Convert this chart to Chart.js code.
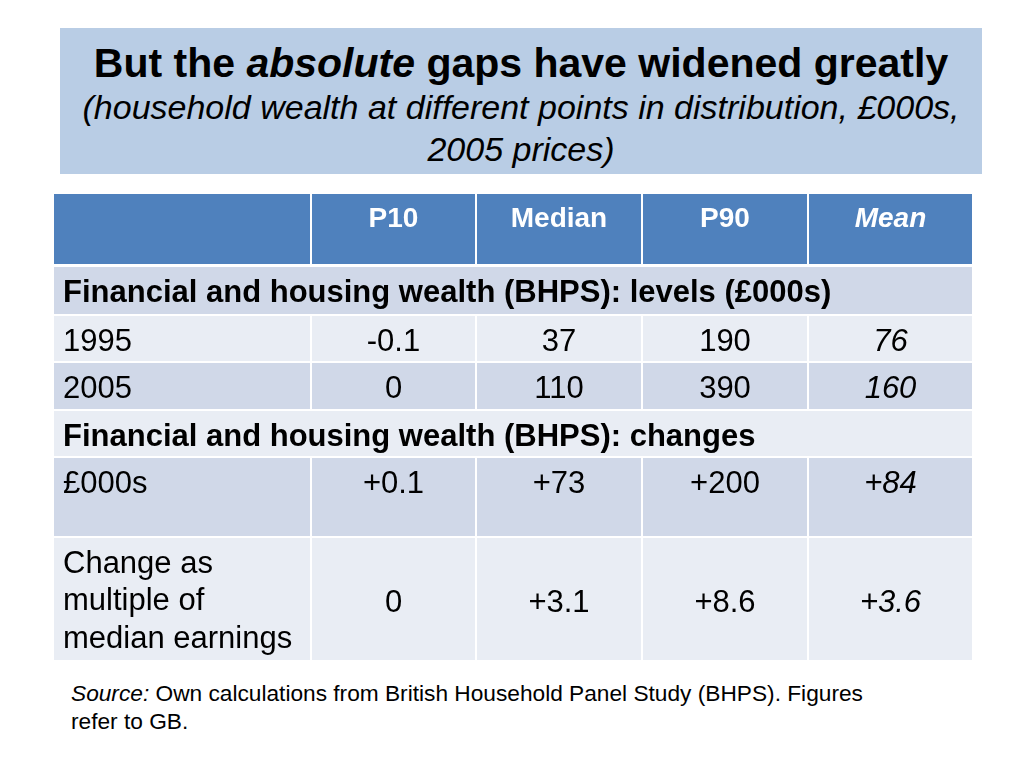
<!DOCTYPE html>
<html>
<head>
<meta charset="utf-8">
<script src="https://cdn.jsdelivr.net/npm/chart.js@4/dist/chart.umd.min.js"></script>
<style>
  body { margin: 0; width: 1024px; height: 768px; background: #fff; position: relative; overflow: hidden;
         font-family: "Liberation Sans", Arial, sans-serif; color: #000; }
  #titleBox { position: absolute; left: 60px; top: 28px; width: 922px; height: 146px; background: #b9cde5; }
  #title { position: absolute; left: 0; width: 100%; top: 13px; line-height: 44px; text-align: center;
           font-size: 41px; font-weight: bold; }
  #subtitle { position: absolute; left: 0; width: 100%; top: 58px; line-height: 42px; text-align: center;
              font-size: 34px; font-style: italic; }
  #tableWrap { position: absolute; left: 53px; top: 193px; width: 920px; height: 468px; }
  #note { position: absolute; left: 71px; top: 679px; line-height: 28px; font-size: 22.7px; }
</style>
</head>
<body>
<div id="titleBox">
  <div id="title">But the <i>absolute</i> gaps have widened greatly</div>
  <div id="subtitle">(household wealth at different points in distribution, £000s,<br>2005 prices)</div>
</div>
<div id="tableWrap"><canvas id="wealthTable"></canvas></div>
<div id="note"><i>Source:</i> Own calculations from British Household Panel Study (BHPS). Figures<br>refer to GB.</div>

<script>
"use strict";

// table content
var columns = ['P10', 'Median', 'P90', 'Mean'];
var section1 = 'Financial and housing wealth (BHPS): levels (£000s)';
var section2 = 'Financial and housing wealth (BHPS): changes';
var levels1995 = [-0.1, 37, 190, 76];
var levels2005 = [0, 110, 390, 160];
var change000s = [0.1, 73, 200, 84];
var changeMultiple = [0, 3.1, 8.6, 3.6];

// layout weights
var colWidths = [258, 165, 166, 166, 165];
var rowHeights = [73, 49, 47, 48, 47, 80, 124];

function plus(v) {
    return v > 0 ? '+' + v : String(v);
}

var rows = [
    { kind: 'header', bg: '#4f81bd' },
    { kind: 'section', text: section1, bg: '#d0d8e8' },
    { kind: 'data', label: ['1995'], values: levels1995.map(String), bg: '#e9edf4' },
    { kind: 'data', label: ['2005'], values: levels2005.map(String), bg: '#d0d8e8' },
    { kind: 'section', text: section2, bg: '#e9edf4' },
    { kind: 'data', label: ['£000s'], values: change000s.map(plus), bg: '#d0d8e8' },
    { kind: 'data', label: ['Change as', 'multiple of', 'median earnings'], values: changeMultiple.map(plus), bg: '#e9edf4', middle: true }
];

var FONT = '"Liberation Sans", Arial, sans-serif';

var tablePlugin = {
    id: 'tablePlugin',
    afterDraw: function (chart) {
        var ctx = chart.ctx;
        var xs = chart.scales.x;
        var ys = chart.scales.y;
        var colEdges = [0];
        colWidths.forEach(function (w, i) { colEdges.push(colEdges[i] + w); });
        var rowEdges = [0];
        rowHeights.forEach(function (h, i) { rowEdges.push(rowEdges[i] + h); });

        ctx.save();
        rows.forEach(function (row, r) {
            var y0 = ys.getPixelForValue(rowEdges[r]);
            var y1 = ys.getPixelForValue(rowEdges[r + 1]);
            var gapBottom = r === 0 ? 2 : 1;
            var cells = row.kind === 'section' ? [[0, 5]] : [[0, 1], [1, 2], [2, 3], [3, 4], [4, 5]];
            cells.forEach(function (c) {
                var x0 = xs.getPixelForValue(colEdges[c[0]]);
                var x1 = xs.getPixelForValue(colEdges[c[1]]);
                ctx.fillStyle = row.bg;
                ctx.fillRect(x0 + 1, y0 + 1, x1 - x0 - 2, y1 - y0 - 1 - gapBottom);
            });

            ctx.textBaseline = 'middle';
            var top = y0 + 27;
            if (row.kind === 'header') {
                ctx.fillStyle = '#ffffff';
                columns.forEach(function (name, i) {
                    var cx = (xs.getPixelForValue(colEdges[i + 1]) + xs.getPixelForValue(colEdges[i + 2])) / 2;
                    ctx.font = (i === 3 ? 'italic ' : '') + 'bold 28px ' + FONT;
                    ctx.textAlign = 'center';
                    ctx.fillText(name, cx, y0 + 26);
                });
            } else if (row.kind === 'section') {
                ctx.fillStyle = '#000';
                ctx.font = 'bold 31px ' + FONT;
                ctx.textAlign = 'left';
                ctx.fillText(row.text, xs.getPixelForValue(0) + 10, top);
            } else {
                ctx.fillStyle = '#000';
                ctx.font = '31px ' + FONT;
                ctx.textAlign = 'left';
                row.label.forEach(function (line, k) {
                    ctx.fillText(line, xs.getPixelForValue(0) + 10, top + k * 37.5);
                });
                var vy = row.middle ? (y0 + y1) / 2 + 4 : top;
                row.values.forEach(function (v, i) {
                    var cx = (xs.getPixelForValue(colEdges[i + 1]) + xs.getPixelForValue(colEdges[i + 2])) / 2;
                    ctx.font = (i === 3 ? 'italic ' : '') + '31px ' + FONT;
                    ctx.textAlign = 'center';
                    ctx.fillText(v, cx, vy);
                });
            }
        });
        ctx.restore();
    }
};

var totalW = colWidths.reduce(function (a, b) { return a + b; }, 0);
var totalH = rowHeights.reduce(function (a, b) { return a + b; }, 0);

var ctx1 = document.getElementById('wealthTable').getContext('2d');
var wealthTable = new Chart(ctx1, {
    type: 'scatter',
    data: { datasets: [{ data: [] }] },
    options: {
        responsive: true,
        maintainAspectRatio: false,
        animation: false,
        events: [],
        layout: { padding: 0 },
        plugins: { legend: { display: false }, tooltip: { enabled: false } },
        scales: {
            x: { type: 'linear', min: 0, max: totalW, display: false },
            y: { type: 'linear', min: 0, max: totalH, reverse: true, display: false }
        }
    },
    plugins: [tablePlugin]
});
</script>
</body>
</html>
